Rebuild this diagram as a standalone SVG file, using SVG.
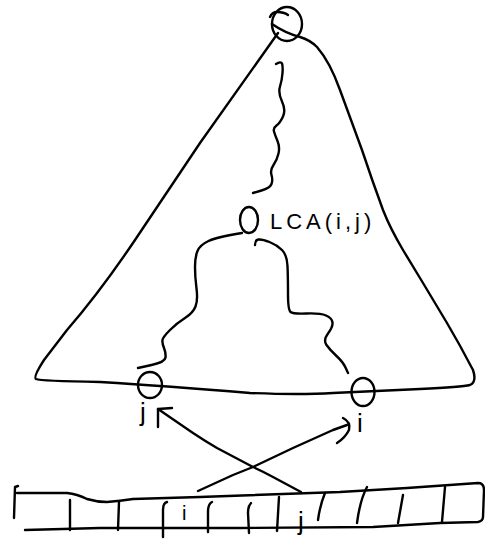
<svg xmlns="http://www.w3.org/2000/svg" width="485" height="539" viewBox="0 0 485 539">
<style>
.s{fill:none;stroke:#000;stroke-width:2.4;stroke-linecap:round;stroke-linejoin:round}
.t{font-family:"Liberation Sans",Arial,sans-serif;fill:#000}
</style>
<rect width="485" height="539" fill="#fff"/>
<g id="tree-outline">
<path class="s" d="M278,33 L200,143 L135,240 Q100,292 67,330 L44,360 Q33,377 36,379 Q40,381 100,382 Q167,386 250,393 Q300,395 333,393 L420,389 Q462,387 470,385 Q477,382 473,370 Q460,345 447,323 L423,283 L403,250 Q390,228 383,210 Q372,180 362,150 L340,90 Q330,62 317,47 Q310,40 300,37 Q285,33 272,24"/>
</g>
<g id="connectors">
<path class="s" d="M276,64 Q281,61 282,63.5 Q283,66 282.5,73 Q282,80 280,86.5 Q278,93 282,101.5 Q286,110 283,116.5 Q280,123 276.5,125.5 Q273,128 274,131.5 Q275,135 277.5,141 Q280,147 278.5,153.5 Q277,160 273.5,165 Q270,170 271.5,175 Q273,180 271.5,184 Q270,188 261.5,190.5 L253,193"/>
<path class="s" d="M242,233 Q217,237 208.5,241 Q200,245 197.5,251 Q195,257 195,267 Q195,277 196.5,288.5 Q198,300 195.5,306.5 Q193,313 185,318 Q177,323 170,330 Q163,337 162.5,340 Q162,343 164,348 Q166,353 165.5,357.5 Q165,362 151.5,365 L138,368"/>
<path class="s" d="M255,245 Q255,240 258.5,239.5 Q262,239 269.5,242 Q277,245 282,250 Q287,255 287.5,266 Q288,277 288,293.5 Q288,310 290.5,312 Q293,314 306.5,313.5 Q320,313 326,315.5 Q332,318 332.5,322.5 Q333,327 328,333.5 Q323,340 326.5,345 Q330,350 336.5,356 Q343,362 345.5,367.5 L348,373"/>
<path class="s" d="M301,492 L273,477 Q262,471 253,467 L217,448 Q205,441 193,433 L158,409"/>
<path class="s" d="M158,427 L158,409 L172,408"/>
<path class="s" d="M198,491 L233,475 Q243,471 253,467 L293,448 L333,430 L347,425"/>
<path class="s" d="M343,418 Q351,422 349,430 Q345,438 337,443"/>
</g>
<g id="root">
<ellipse class="s" cx="287" cy="24" rx="15" ry="17"/>
<path class="s" d="M270,17 Q272,12 277,12 Q284,12 288,15"/>
</g>
<g id="lca">
<ellipse class="s" cx="249" cy="220" rx="9" ry="13"/>
<text class="t" x="270" y="229" font-size="22" letter-spacing="4">LCA(i,j)</text>
</g>
<g id="node-j">
<ellipse class="s" cx="150" cy="385" rx="12" ry="13"/>
<text class="t" x="140" y="421" font-size="26">j</text>
</g>
<g id="node-i">
<ellipse class="s" cx="363" cy="392" rx="11.5" ry="14"/>
<text class="t" x="357" y="432" font-size="26">i</text>
</g>
<g id="array">
<path class="s" d="M15,487 L14,518 M15,487 L18,486"/>
<path class="s" d="M17,493 L67,493 Q77,494 87,499 Q97,502 107,502 Q120,501 133,499 L200,497 L340,492 L407,488 L478,483 Q484,483 484,490 L483,517 Q483,521 478,522 L440,523 L373,527 L240,528 L100,528 L25,530"/>
<path class="s" d="M70,500 L70,530 M119,502 L118,530 M167,502 Q163,503 163,510 L163,537 M212,502 Q208,504 208,512 L208,532 M251,503 Q248,506 248,513 L249,533 M279,497 L277,531 M325,493 Q320,505 318,520 M367,487 Q360,500 357,523 M403,495 L398,523 M445,487 L442,522"/>
<text class="t" x="182" y="520" font-size="20">i</text>
<text class="t" x="298" y="530" font-size="26">j</text>
</g>
</svg>
